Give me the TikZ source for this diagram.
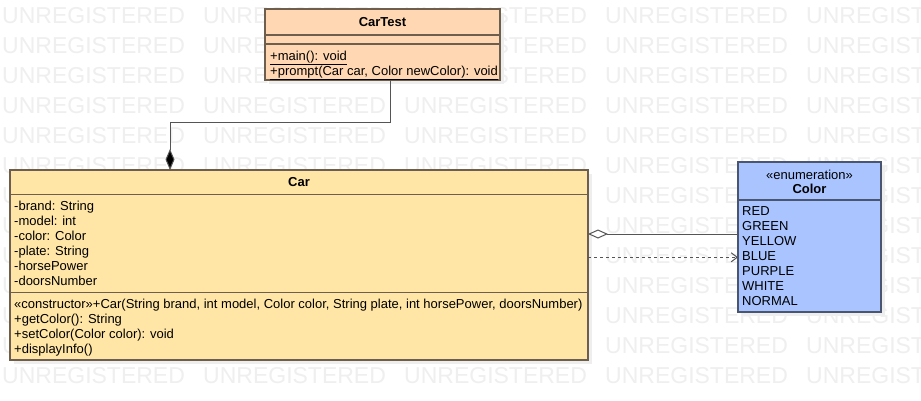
\documentclass[tikz,border=0pt]{standalone}
\usepackage{fontspec}
\setmainfont{Liberation Sans}
\usetikzlibrary{arrows.meta}
\definecolor{wmgray}{HTML}{EFEFEF}
\definecolor{shadowgray}{HTML}{EEEEEE}
\definecolor{ctfill}{HTML}{FFD7B2}
\definecolor{carfill}{HTML}{FFE6A6}
\definecolor{colfill}{HTML}{A9C4FF}
\definecolor{brownline}{HTML}{6E5E4E}
\definecolor{blueline}{HTML}{4A5670}
\definecolor{connline}{HTML}{555555}
\tikzset{
  wmtext/.style={text=wmgray, font=\fontsize{23}{23}\selectfont, anchor=west, inner sep=0pt},
  classbox/.style={anchor=north west, line width=1.2pt, inner sep=0pt, outer sep=0pt},
  sepline/.style={line width=1.2pt},
  titletext/.style={font=\fontsize{13}{15}\selectfont\bfseries, inner sep=0pt, text=black},
  stereo/.style={font=\fontsize{13}{15}\selectfont, inner sep=0pt, text=black},
  member/.style={font=\fontsize{13}{15}\selectfont, anchor=base west, inner sep=0pt, text=black},
  boxshadow/.style={fill=shadowgray},
  compo/.style={draw=connline, line width=1pt, -{Diamond[length=21pt, width=9pt, fill=black]}},
  aggr/.style={draw=connline, line width=1pt, -{Diamond[open, length=20pt, width=9pt, fill=white]}},
  depend/.style={draw=connline, line width=1pt, dash pattern=on 3pt off 3pt, -{Straight Barb[length=6pt, width=9pt]}},
}
\begin{document}
\begin{tikzpicture}[x=1pt, y=-1pt]
\useasboundingbox (0,0) rectangle (921,400);
\fill[white] (0,0) rectangle (921,400);
% watermark
\begin{scope}
\clip (0,0) rectangle (921,400);
\foreach \r in {0,...,12} {
  \foreach \c in {0,...,4} {
    \node[wmtext] (wm-\r-\c) at ({2+201*\c},{16+30*\r}) {UNREGISTERED};
  }
}
\end{scope}
% shadows
\fill[boxshadow] (269,13) rectangle (504,84);
\fill[boxshadow] (14,174) rectangle (592,364);
\fill[boxshadow] (742,166) rectangle (885,316);

% CarTest
\node[classbox, draw=brownline, fill=ctfill, minimum width=235pt, minimum height=71pt] (cartest) at (265,9) {};
\draw[sepline, draw=brownline] ([yshift=-26pt]cartest.north west) -- ([yshift=-26pt]cartest.north east);
\draw[sepline, draw=brownline] ([yshift=-35pt]cartest.north west) -- ([yshift=-35pt]cartest.north east);
\node[titletext] (cartest-title) at (382.5,22) {CarTest};
\node[member] (cartest-m1) at (270,60.5) {\underline{+main(): void}};
\node[member] (cartest-m2) at (270,75) {\underline{+prompt(Car car, Color newColor): void}};

% Car
\node[classbox, draw=brownline, fill=carfill, minimum width=578pt, minimum height=190pt] (car) at (10,170) {};
\draw[sepline, draw=brownline] ([yshift=-24.5pt]car.north west) -- ([yshift=-24.5pt]car.north east);
\draw[sepline, draw=brownline] ([yshift=-122.5pt]car.north west) -- ([yshift=-122.5pt]car.north east);
\node[titletext] (car-title) at (299,182) {Car};
\node[member] (car-a1) at (14,210.5) {-brand: String};
\node[member] (car-a2) at (14,225.5) {-model: int};
\node[member] (car-a3) at (14,240.5) {-color: Color};
\node[member] (car-a4) at (14,255.5) {-plate: String};
\node[member] (car-a5) at (14,270.5) {-horsePower};
\node[member] (car-a6) at (14,285.5) {-doorsNumber};
\node[member] (car-m1) at (14,308) {«constructor»+Car(String brand, int model, Color color, String plate, int horsePower, doorsNumber)};
\node[member] (car-m2) at (14,323) {+getColor(): String};
\node[member] (car-m3) at (14,338) {+setColor(Color color): void};
\node[member] (car-m4) at (14,353) {+displayInfo()};

% Color
\node[classbox, draw=blueline, fill=colfill, minimum width=143pt, minimum height=150pt] (color) at (738,162) {};
\draw[sepline, draw=blueline] ([yshift=-38pt]color.north west) -- ([yshift=-38pt]color.north east);
\node[stereo] (color-stereo) at (809.5,175) {«enumeration»};
\node[titletext] (color-title) at (809.5,188.5) {Color};
\node[member] (color-l1) at (742,215.5) {RED};
\node[member] (color-l2) at (742,230.5) {GREEN};
\node[member] (color-l3) at (742,245.5) {YELLOW};
\node[member] (color-l4) at (742,260) {BLUE};
\node[member] (color-l5) at (742,275.5) {PURPLE};
\node[member] (color-l6) at (742,290) {WHITE};
\node[member] (color-l7) at (742,305.5) {NORMAL};

% connectors
\draw[compo] ([xshift=125pt]cartest.south west) -- ++(0,42) -| ([xshift=160pt]car.north west);
\coordinate (aggEnd) at ([yshift=-72pt]color.north west);
\draw[aggr] (aggEnd) -- (aggEnd -| car.east);
\coordinate (depStart) at ([yshift=-87.3pt]car.north east);
\draw[depend] (depStart) -- (depStart -| color.west);
\end{tikzpicture}
\end{document}
